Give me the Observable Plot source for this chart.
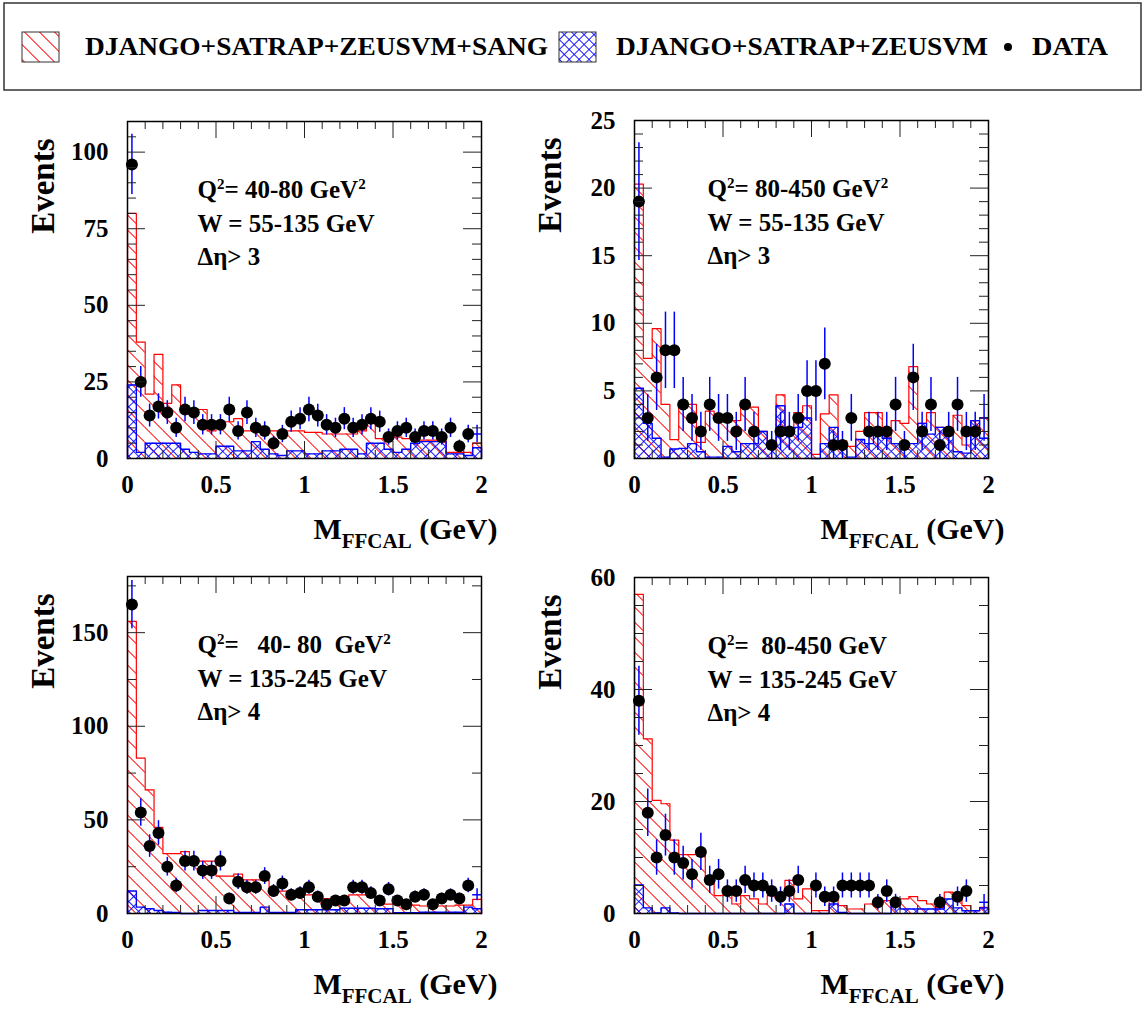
<!DOCTYPE html>
<html>
<head>
<meta charset="utf-8">
<script src="https://cdn.jsdelivr.net/npm/d3@7"></script>
<script src="https://cdn.jsdelivr.net/npm/@observablehq/plot@0.6"></script>
<style>
  body { margin: 0; background: #fff; }
  #page { position: relative; width: 1146px; height: 1010px; overflow: hidden; background: #fff; }
  #page svg { position: absolute; }
</style>
</head>
<body>
<div id="page"></div>
<script>
// ---------------- DATA ----------------
const binWidth = 0.05;
const binLow = d3.range(40).map(i => +(i * binWidth).toFixed(2));

const legendLabels = ["DJANGO+SATRAP+ZEUSVM+SANG", "DJANGO+SATRAP+ZEUSVM", "DATA"];
const xTitle = "M_{FFCAL} (GeV)";
const yTitle = "Events";
const xTickValues = [0, 0.5, 1, 1.5, 2];

// Panel 1: Q2 40-80, W 55-135, deta > 3
const p1Notes = ["Q^{2}= 40-80 GeV^{2}", "W = 55-135 GeV", "Δη> 3"];
const p1YTicks = [0, 25, 50, 75, 100];
const p1Sang = [80,38,21,34,18,24,16,16,16,9,12,12,13,9,10,10,9,9,9,9,8.5,8.5,8,8,8,8,9,12,6.5,7,7,6.5,6,6,6,6,2,2,2,5];
const p1NoSang = [24,2,5,5,5,5,3,2,1.5,1.5,4,4,2.5,2.5,5.5,3,1.5,1,2.5,2.5,1.5,1.5,2.5,2.5,3,3,1.5,5,5,3,2,3,5,5.5,5.5,5.5,1.5,1.5,1,3.5];
const p1Data = [96,25,14,17,15,10,16,15,11,11,11,16,9,15,10,9,5,8,12,13,16,14,11,10,13,10,11,13,12,7,9,10,7,9,9,7,10,4,8,8];

// Panel 2: Q2 80-450, W 55-135, deta > 3
const p2Notes = ["Q^{2}= 80-450 GeV^{2}", "W = 55-135 GeV", "Δη> 3"];
const p2YTicks = [0, 5, 10, 15, 20, 25];
const p2Sang = [20.3,7.4,9.6,4,1.4,4,4,1.2,3.5,3.2,3,2.8,4,3.8,2,1.2,4.7,2.1,3.4,3.9,0.3,3.3,4.7,1.3,0.9,2,3.4,3.4,1.5,2.8,2.6,6.8,2.6,3.4,2.3,2.1,3.2,1,2.8,3];
const p2NoSang = [5.2,2.6,1.5,0.1,0.7,0.75,1.1,0.5,0.1,0.1,0.9,0.5,1.1,1.1,2,1.1,3.9,2.1,2.3,3,0,1.1,2.3,1.1,0.1,1.4,1.1,2.1,1.5,1.1,0.9,1.1,2.6,1.8,2.3,2.1,0.5,0.4,2.8,1.5];
const p2Data = [19,3,6,8,8,4,3,2,4,3,3,2,4,2,0,1,2,2,3,5,5,7,1,1,3,0,2,2,2,4,1,6,2,4,1,2,4,2,2,3];

// Panel 3: Q2 40-80, W 135-245, deta > 4
const p3Notes = ["Q^{2}=   40- 80  GeV^{2}", "W = 135-245 GeV", "Δη> 4"];
const p3YTicks = [0, 50, 100, 150];
const p3Sang = [156,83,66,46,32,32,33,28,28,28,20,20,21,18,18,18,12,12,11,11,10,9,8,8,9,10,10,10,8,5,5,4.5,4.5,4,4,4,4,4.5,4.5,7.5];
const p3NoSang = [12,3.4,2.5,1.6,0.7,0.5,0,0,1.6,1.6,1.6,1.6,0.5,0.5,0.5,3.4,0.5,0.5,0.5,2,2,2,2,2,2.8,2.8,2.8,2.8,2.5,2.5,0.4,0.4,0.4,0.7,0.7,0.7,0.7,0.7,3.4,2.5];
const p3Data = [165,54,36,43,25,15,28,28,23,23,28,8,17,14,14,20,12,16,10,11,14,9,5,7,7,14,14,11,7,13,7,5,9,10,5,8,10,8,15,10];

// Panel 4: Q2 80-450, W 135-245, deta > 4
const p4Notes = ["Q^{2}=  80-450 GeV", "W = 135-245 GeV", "Δη> 4"];
const p4YTicks = [0, 20, 40, 60];
const p4Sang = [57,31.2,20.2,19.6,13.1,10.5,10.5,10.6,5.6,3.2,4.1,1.7,3.2,2.6,1.7,3.2,3,5.9,2.6,4.4,0.5,0.5,2.9,1.4,0.8,0.8,1.7,1.7,2.3,1.4,2.6,3,2.3,1.7,1.1,3.8,2.9,1.4,0.5,1.1];
const p4NoSang = [5.1,1,0.1,1,0.1,0,0,0,0,0,0,0,0,0,0,0,0,1.7,0,0,0,0,1.7,0.2,0,0,0,0,0,1.4,0.8,0.8,0.8,0.8,0.8,2.6,1,0.5,0.5,1];
const p4Data = [38,18,10,14,10,9,7,11,6,7,4,4,6,5,5,4,3,4,6,0,5,3,3,5,5,5,5,2,4,2,0,0,0,0,2,0,3,4,0,2];

// ---------------- LAYOUT ----------------
const FONT = "'Liberation Serif', 'Times New Roman', Times, serif";
const RED = "#ff0000", BLUE = "#0000ff";
const FRAME_W = 354;

const panels = [
  {sang: p1Sang, base: p1NoSang, data: p1Data, notes: p1Notes, yTicks: p1YTicks, ymax: 110, yMinorStep: 5,
   box: {x: 0, y: 95, w: 520, h: 465}, frame: {left: 127, top: 121, height: 337}, noteDx: 70},
  {sang: p2Sang, base: p2NoSang, data: p2Data, notes: p2Notes, yTicks: p2YTicks, ymax: 25, yMinorStep: 1,
   box: {x: 520, y: 95, w: 626, h: 465}, frame: {left: 634, top: 120, height: 338}, noteDx: 73},
  {sang: p3Sang, base: p3NoSang, data: p3Data, notes: p3Notes, yTicks: p3YTicks, ymax: 180, yMinorStep: 25,
   box: {x: 0, y: 560, w: 520, h: 450}, frame: {left: 127, top: 576, height: 337}, noteDx: 70},
  {sang: p4Sang, base: p4NoSang, data: p4Data, notes: p4Notes, yTicks: p4YTicks, ymax: 60, yMinorStep: 5,
   box: {x: 520, y: 560, w: 626, h: 450}, frame: {left: 634, top: 577, height: 336}, noteDx: 73}
];
const noteDy = [76, 110.5, 143];

// ---------------- HELPERS ----------------
function addPatterns(defs, k) {
  const r = defs.append("pattern").attr("id", `hatchR${k}`)
    .attr("patternUnits", "userSpaceOnUse").attr("width", 10.6).attr("height", 10.6)
    .attr("patternTransform", "rotate(-45)");
  r.append("line").attr("x1", 5.3).attr("x2", 5.3).attr("y1", -1).attr("y2", 12)
    .attr("stroke", RED).attr("stroke-width", 1);
  const b = defs.append("pattern").attr("id", `hatchB${k}`)
    .attr("patternUnits", "userSpaceOnUse").attr("width", 7).attr("height", 7)
    .attr("patternTransform", "rotate(45)");
  b.append("line").attr("x1", 3.5).attr("x2", 3.5).attr("y1", -1).attr("y2", 8)
    .attr("stroke", BLUE).attr("stroke-width", 0.9);
  b.append("line").attr("y1", 3.5).attr("y2", 3.5).attr("x1", -1).attr("x2", 8)
    .attr("stroke", BLUE).attr("stroke-width", 0.9);
}

function patternMark(k) {
  return () => {
    const g = d3.create("svg:g");
    addPatterns(g.append("defs"), k);
    return g.node();
  };
}

// turn ^{..} and _{..} into super/subscript tspans
function richText(root) {
  const ns = "http://www.w3.org/2000/svg";
  root.querySelectorAll("text").forEach(t => {
    const s = t.textContent;
    if (!/[\^_]\{/.test(s)) return;
    const fs = parseFloat(getComputedStyle(t).fontSize) || 25;
    const parts = [];
    const re = /([\^_])\{([^}]*)\}/g;
    let last = 0, m;
    while ((m = re.exec(s))) {
      if (m.index > last) parts.push({t: s.slice(last, m.index), mode: 0});
      parts.push({t: m[2], mode: m[1] === "^" ? 1 : -1});
      last = re.lastIndex;
    }
    if (last < s.length) parts.push({t: s.slice(last), mode: 0});
    t.textContent = "";
    t.setAttribute("xml:space", "preserve");
    t.style.whiteSpace = "pre";
    let shift = 0;
    for (const p of parts) {
      const target = p.mode === 1 ? -0.36 * fs : p.mode === -1 ? 0.3 * fs : 0;
      const ts = document.createElementNS(ns, "tspan");
      ts.setAttribute("dy", target - shift);
      shift = target;
      if (p.mode === 1) ts.setAttribute("font-size", 0.6 * fs);
      if (p.mode === -1) ts.setAttribute("font-size", 0.7 * fs);
      ts.textContent = p.t;
      t.appendChild(ts);
    }
  });
}

const page = document.getElementById("page");

// ---------------- LEGEND ----------------
(function drawLegend() {
  const svg = d3.select(page).append("svg")
    .attr("width", 1146).attr("height", 95)
    .style("left", "0px").style("top", "0px")
    .style("font-family", FONT).style("font-weight", "bold").style("font-size", "25px");
  addPatterns(svg.append("defs"), "L");
  svg.append("rect").attr("x", 4).attr("y", 3).attr("width", 1137).attr("height", 87)
    .attr("fill", "white").attr("stroke", "#333").attr("stroke-width", 1.5);
  svg.append("rect").attr("x", 22).attr("y", 32).attr("width", 37).attr("height", 30)
    .attr("fill", "url(#hatchRL)").attr("stroke", "#333").attr("stroke-width", 1);
  svg.append("text").attr("x", 85).attr("y", 55).attr("textLength", 463)
    .attr("lengthAdjust", "spacingAndGlyphs").text(legendLabels[0]);
  svg.append("rect").attr("x", 559).attr("y", 32).attr("width", 37).attr("height", 30)
    .attr("fill", "url(#hatchBL)").attr("stroke", "#333").attr("stroke-width", 1);
  svg.append("text").attr("x", 616).attr("y", 55).attr("textLength", 372)
    .attr("lengthAdjust", "spacingAndGlyphs").text(legendLabels[1]);
  svg.append("circle").attr("cx", 1008).attr("cy", 47).attr("r", 4).attr("fill", "black");
  svg.append("text").attr("x", 1032).attr("y", 55).attr("textLength", 76)
    .attr("lengthAdjust", "spacingAndGlyphs").text(legendLabels[2]);
})();

// ---------------- PANELS ----------------
panels.forEach((p, k) => {
  const W = FRAME_W, H = p.frame.height;
  const mL = p.frame.left - p.box.x, mT = p.frame.top - p.box.y;
  const mR = p.box.w - mL - W, mB = p.box.h - mT - H;

  const bins = binLow.map((x0, i) => ({
    x0, x1: +(x0 + binWidth).toFixed(2), xc: x0 + binWidth / 2,
    sang: p.sang[i], base: p.base[i], n: p.data[i]
  }));
  const step = key => [{x: 0, y: 0}, ...bins.map(b => ({x: b.x0, y: b[key]})),
                       {x: 2, y: bins[bins.length - 1][key]}, {x: 2, y: 0}];
  const pts = bins.filter(b => b.n > 0);
  const shown = pts.filter(b => b.x1 < 2 - 1e-9);

  const yMinor = d3.range(0, p.ymax + 1e-9, p.yMinorStep).filter(v => !p.yTicks.includes(v));
  const xMinor = d3.range(0, 2.0001, 0.1).map(v => +v.toFixed(2)).filter(v => !xTickValues.includes(v));
  const tickStyle = {stroke: "#222", strokeWidth: 1};

  const plot = Plot.plot({
    width: p.box.w, height: p.box.h,
    marginLeft: mL, marginRight: mR, marginTop: mT, marginBottom: mB,
    x: {domain: [0, 2], label: null},
    y: {domain: [0, p.ymax], label: null},
    style: {fontFamily: FONT, fontWeight: "bold", fontSize: "25px", background: "transparent", overflow: "visible", color: "black"},
    marks: [
      patternMark(k),
      Plot.rectY(bins, {x1: "x0", x2: "x1", y: "sang", fill: `url(#hatchR${k})`}),
      Plot.line(step("sang"), {x: "x", y: "y", curve: "step-after", stroke: RED, strokeWidth: 1.2}),
      Plot.rectY(bins, {x1: "x0", x2: "x1", y: "base", fill: `url(#hatchB${k})`}),
      Plot.line(step("base"), {x: "x", y: "y", curve: "step-after", stroke: BLUE, strokeWidth: 1.4}),
      Plot.ruleX(pts, {x: "xc", y1: d => d.n - Math.sqrt(d.n), y2: d => d.n + Math.sqrt(d.n), stroke: BLUE, strokeWidth: 1.5}),
      Plot.ruleY(pts, {y: "n", x1: "x0", x2: "x1", stroke: BLUE, strokeWidth: 1.5}),
      Plot.dot(shown, {x: "xc", y: "n", r: 6, fill: "black", stroke: "none"}),
      // inward ticks on all four sides
      Plot.tickY(p.yTicks, {y: d => d, insetRight: W - 18, ...tickStyle}),
      Plot.tickY(p.yTicks, {y: d => d, insetLeft: W - 18, ...tickStyle}),
      Plot.tickY(yMinor, {y: d => d, insetRight: W - 9, ...tickStyle}),
      Plot.tickY(yMinor, {y: d => d, insetLeft: W - 9, ...tickStyle}),
      Plot.tickX(xTickValues, {x: d => d, insetTop: H - 17, ...tickStyle}),
      Plot.tickX(xTickValues, {x: d => d, insetBottom: H - 17, ...tickStyle}),
      Plot.tickX(xMinor, {x: d => d, insetTop: H - 8, ...tickStyle}),
      Plot.tickX(xMinor, {x: d => d, insetBottom: H - 8, ...tickStyle}),
      Plot.axisY({ticks: p.yTicks, tickSize: 0, tickPadding: 19, tickFormat: d => String(d), fontSize: 25, label: null}),
      Plot.axisX({ticks: xTickValues, tickSize: 0, tickPadding: 17, tickFormat: d => String(d), fontSize: 25, label: null}),
      ...p.notes.map((line, i) => Plot.text([line], {
        text: d => d, frameAnchor: "top-left", dx: p.noteDx, dy: noteDy[i],
        textAnchor: "start", lineAnchor: "bottom", fontSize: 25
      })),
      Plot.text([yTitle], {text: d => d, frameAnchor: "top-left", dx: -74, dy: 17, rotate: -90,
        textAnchor: "end", lineAnchor: "bottom", fontSize: 33}),
      Plot.text([xTitle], {text: d => d, frameAnchor: "bottom-right", dx: 16, dy: 80,
        textAnchor: "end", lineAnchor: "bottom", fontSize: 30}),
      Plot.frame({stroke: "black", strokeWidth: 1.5})
    ]
  });
  plot.style.left = p.box.x + "px";
  plot.style.top = p.box.y + "px";
  page.appendChild(plot);
  richText(plot);
});
</script>
</body>
</html>
